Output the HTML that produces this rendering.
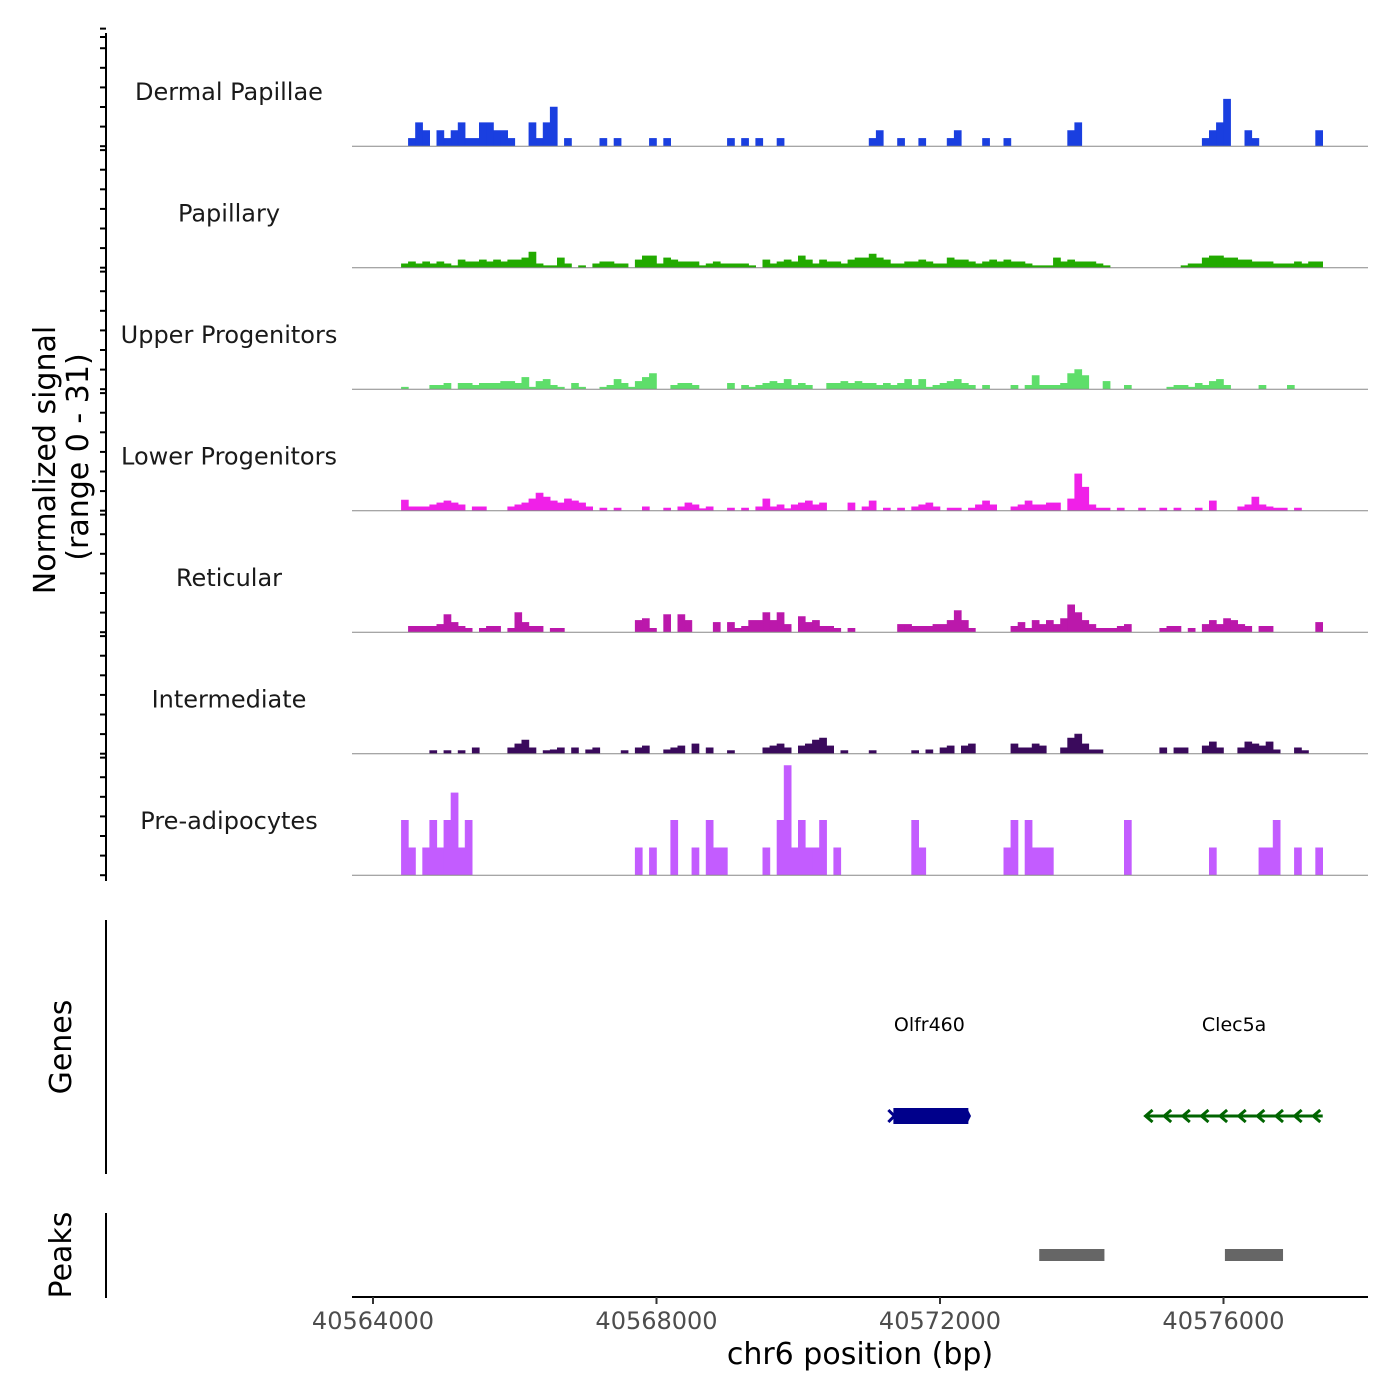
<!DOCTYPE html>
<html><head><meta charset="utf-8">
<style>
html,body{margin:0;padding:0;background:#fff;}
svg{display:block;font-family:"DejaVu Sans","Liberation Sans",sans-serif;}
</style></head>
<body>
<svg id="chart" width="1400" height="1400" viewBox="0 0 1400 1400" xmlns="http://www.w3.org/2000/svg">
<rect width="1400" height="1400" fill="#fff"/>
<g id="tracks"></g>
<g id="yaxis"></g>
<text transform="translate(55,460) rotate(-90)" text-anchor="middle" font-size="30" fill="#000">Normalized signal</text>
<text transform="translate(88,457) rotate(-90)" text-anchor="middle" font-size="30" fill="#000">(range 0 - 31)</text>
<line x1="106" y1="920" x2="106" y2="1174" stroke="#000" stroke-width="2"/>
<text transform="translate(71,1047) rotate(-90)" text-anchor="middle" font-size="30" fill="#000">Genes</text>
<line x1="106" y1="1213" x2="106" y2="1298" stroke="#000" stroke-width="2"/>
<text transform="translate(71,1255) rotate(-90)" text-anchor="middle" font-size="30" fill="#000">Peaks</text>
<g id="genes"></g>
<g id="peaks"></g>
<g id="xaxis"></g>
<text x="860" y="1364" text-anchor="middle" font-size="30" fill="#000">chr6 position (bp)</text>
</svg>
<script>
// ---- data ----
const binStart = 40563700;
const binSize = 100;
const trackNames = ["Dermal Papillae","Papillary","Upper Progenitors","Lower Progenitors","Reticular","Intermediate","Pre-adipocytes"];
const trackColors = ["#1a3fe0","#22aa00","#5ede6a","#f020e8","#bb18ab","#3a0a5c","#c35cff"];
const xTicks = [40564000,40568000,40572000,40576000];
const xTickLabels = ["40564000","40568000","40572000","40576000"];

const dermalBins = [8,9,10,12,13,14,15,16,17,18,19,20,21,22,25,26,27,28,30,35,37,42,44,53,55,57,60,73,74,77,80,84,85,89,92,101,102,120,121,122,123,126,127,136];
const dermalVals = [2,6,4,4,2,4,6,2,2,6,6,4,4,2,6,2,6,10,2,2,2,2,2,2,2,2,2,2,4,2,2,2,4,2,2,4,6,2,4,6,12,4,2,4];

const papBins = [7,8,9,10,11,12,13,14,15,16,17,18,19,20,21,22,23,24,25,26,27,28,29,30,32,34,35,36,37,38,40,41,42,43,44,45,46,47,48,49,50,51,52,53,54,55,56,58,59,60,61,62,63,64,65,66,67,68,69,70,71,72,73,74,75,76,77,78,79,80,81,82,83,84,85,86,87,88,89,90,91,92,93,94,95,96,97,98,99,100,101,102,103,104,105,106,117,118,119,120,121,122,123,124,125,126,127,128,129,130,131,132,133,134,135,136];
const papVals = [1,1.5,1,1.5,1,1.5,1,0.5,2,1.5,1.5,2,1.5,2,1.5,2,2,2.5,4,1,0.5,0.5,2.5,1,0.5,1,1.5,1.5,1,1,2,3,3,1,2.5,2,1.5,1.5,1.5,0.5,1,1.5,1,1,1,1,0.5,2,1,1.5,2,1.5,3,2,1,2,1.5,1.5,1,2,2.5,2.5,3.5,2.5,2,1,1,1.5,1.5,2,1.5,1,1,2.5,2,2,1.5,1,1.5,2,1.5,2,1.5,1.5,1,0.5,0.5,0.5,2.5,1.5,2,1.5,1.5,1.5,1,0.5,0.5,1,1,2.5,3,3,2.5,2.5,2,2,1.5,1.5,1.5,1,1,1,1.5,1,1.5,1.5];

const upperBins = [7,11,12,13,15,16,17,18,19,20,21,22,23,24,25,26,27,28,29,31,32,35,36,37,38,39,40,41,42,45,46,47,48,53,55,56,57,58,59,60,61,62,63,64,67,68,69,70,71,72,73,74,75,76,77,78,79,80,81,82,83,84,85,86,87,89,93,95,96,97,98,99,100,101,102,103,106,109,115,116,117,118,119,120,121,122,123,128,132];
const upperVals = [0.5,1,1,1.5,1.5,1.5,1,1.5,1.5,1.5,2,2,1.5,3,0.5,2,2.5,1,0.5,1.5,0.5,0.5,1,2.5,1.5,0.5,2,3,4,1,1.5,1.5,1,1.5,1,0.5,1,1.5,2,1.5,2.5,1,1.5,1,1.5,1.5,2,1.5,2,1.5,1.5,1,1.5,1,1.5,2.5,1,2.5,0.5,1,1.5,2,2.5,1.5,1,1,1,1,3.5,1,1,1,1.5,4,5,3.5,2,1,0.5,1,1,0.5,1.5,1,2,2.5,1,1,1];

const lowerBins = [7,8,9,10,11,12,13,14,15,17,18,22,23,24,25,26,27,28,29,30,31,32,33,35,37,41,44,46,47,48,49,50,53,55,57,58,59,60,61,62,63,64,65,66,70,72,73,75,77,79,80,81,82,84,85,87,88,89,90,93,94,95,96,97,98,99,101,102,103,104,105,106,108,111,114,116,119,121,125,126,127,128,129,130,131,133];
const lowerVals = [2.7,1,1,1,1.5,2,2.5,2,1.5,1,1,1,1.5,2,3,4.5,3.5,2.5,2,3,2.5,2,1,0.7,0.7,1,0.7,1,2,1.5,0.5,1,0.7,0.7,1,3,1,1.5,0.5,1.5,2,2.5,1.5,2,2,1,2.5,0.7,0.7,1,1.5,2,1,0.7,0.7,0.7,1.5,2.5,1.5,1,1.5,2.5,1.5,1.5,2,2,3,9.4,6,1.5,0.7,0.7,0.7,0.7,0.7,0.7,0.7,2.5,1,1.5,3.5,1.5,1,0.7,0.7,0.7];

const retBins = [8,9,10,11,12,13,14,15,16,18,19,20,22,23,24,25,26,28,29,40,41,42,44,46,47,51,53,54,55,56,57,58,59,60,61,63,64,65,66,67,68,70,77,78,79,80,81,82,83,84,85,86,87,93,94,95,96,97,98,99,100,101,102,103,104,105,106,107,108,109,114,115,116,118,120,121,122,123,124,125,126,128,129,136];
const retVals = [1.5,1.5,1.5,1.5,2,4.5,2.5,1.5,1,1,1.5,1.5,1,5,2.5,1.5,1.5,1,1,3,3.5,1,4.5,4.5,3,2.5,2.5,1,1.5,3,3,5,3,5,2,4,2.5,3,1.5,1.5,1,1,2,2,1.5,1.5,1.5,2,2,3,5.5,3,1,1.5,2.5,1,3,2,3,2,3.5,7,5,3,2,1,1,1,1.5,2,1,1.5,1.5,1,2,3,2,3.5,3,2,1.5,1.5,1.5,2.5];

const interBins = [11,13,15,17,22,23,24,25,27,28,29,31,33,34,38,40,41,44,45,46,48,50,53,58,59,60,61,63,64,65,66,67,69,73,79,81,83,84,86,87,93,94,95,96,97,100,101,102,103,104,105,114,116,117,120,121,122,125,126,127,128,129,130,133,134];
const interVals = [0.8,0.8,0.8,1.5,1.5,2.5,3.5,1.5,0.8,1,1.5,1.5,1,1.5,0.8,1.5,2,1,1.5,2,2.5,1.5,0.8,1.5,2,2.5,1.5,2,2.5,3.5,4,2,0.8,0.8,0.8,1,1.5,2,2,2.5,2.5,1.5,1.5,2.5,2,1.5,4,5,2.5,1,1,1.5,1.5,1.5,2,3,1.5,1.5,3,2.5,2,3,1,1.5,0.8];

const preBins = [7,8,10,11,12,13,14,15,16,40,42,45,48,50,51,52,58,60,61,62,63,64,65,66,68,79,80,92,93,95,96,97,98,109,121,128,129,130,133,136];
const preVals = [14,7,7,14,7,14,21,7,14,7,7,14,7,14,7,7,7,14,28,7,14,7,7,14,7,14,7,7,14,14,7,7,7,14,7,7,7,14,7,7];

const trackBins = [dermalBins,papBins,upperBins,lowerBins,retBins,interBins,preBins];
const trackVals = [dermalVals,papVals,upperVals,lowerVals,retVals,interVals,preVals];

const genesNames = ["Olfr460","Clec5a"];
const genesStart = [40571300,40574900];
const genesEnd = [40572400,40577400];
const genesStrand = ["+","-"];
const peaksStart = [40573400,40576020];
const peaksEnd = [40574320,40576840];

// ---- scales ----
const NS = "http://www.w3.org/2000/svg";
const yMax = 31;
const trackHeight = 121.5;
const firstBaseline = 146.2;
function xScale(bp){ return 373 + (bp - 40564000) * 283.5 / 4000; }
function baseline(t){ return firstBaseline + t * trackHeight; }
function yScale(t, v){ return baseline(t) - v * trackHeight / yMax; }
function mk(tag, attrs, parent){
  const e = document.createElementNS(NS, tag);
  for (const k in attrs) e.setAttribute(k, attrs[k]);
  parent.appendChild(e);
  return e;
}

const tracksG = document.getElementById('tracks');
const yAxisG = document.getElementById('yaxis');

trackNames.forEach((name, t) => {
  const g = mk('g', {}, tracksG);
  
  
  const bins = trackBins[t], vals = trackVals[t];
  let d = '';
  bins.forEach((b, i) => {
    const x0 = xScale(binStart + b * binSize), x1 = xScale(binStart + (b + 1) * binSize);
    const y0 = baseline(t), y1 = yScale(t, vals[i]);
    d += 'M' + x0.toFixed(1) + ' ' + y0.toFixed(1) + 'L' + x0.toFixed(1) + ' ' + y1.toFixed(1) + 'L' + x1.toFixed(1) + ' ' + y1.toFixed(1) + 'L' + x1.toFixed(1) + ' ' + y0.toFixed(1) + 'Z';
  });
  const area = mk('path', {d: d, fill: trackColors[t], stroke: trackColors[t], 'stroke-width': 0.6}, g);
  
  
  const bl = mk('line', {x1: 352, x2: 1368, y1: baseline(t), y2: baseline(t), stroke: '#888', 'stroke-width': 1}, g);
  
  
  const lab = mk('text', {x: 229, y: baseline(t) - 46, 'text-anchor': 'middle', 'font-size': 24, fill: '#1a1a1a'}, g);
  lab.textContent = name;
  
  
  for (let v = 0; v <= 30; v += 5) {
    const ty = yScale(t, v);
    const tk = mk('line', {x1: 100, x2: 106, y1: ty, y2: ty, stroke: '#000', 'stroke-width': 2}, yAxisG);
    
    
  }
});
const yl = mk('line', {x1: 106, x2: 106, y1: 33, y2: 881, stroke: '#000', 'stroke-width': 2}, yAxisG);


const topTick = mk('line', {x1: 100, x2: 106, y1: 37, y2: 37, stroke: '#000', 'stroke-width': 2}, yAxisG);



// genes
const genesG = document.getElementById('genes');
const geneColors = {"+": "#00008b", "-": "#006400"};
genesNames.forEach((n, i) => {
  const g = mk('g', {}, genesG);
  
  
  const x0 = xScale(genesStart[i]), x1 = xScale(genesEnd[i]);
  const c = geneColors[genesStrand[i]];
  const lab = mk('text', {x: (x0 + x1) / 2, y: 1031, 'text-anchor': 'middle', 'font-size': 19, fill: '#000'}, g);
  lab.textContent = n;
  
  
  if (genesStrand[i] === '+') {
    const body = mk('rect', {x: x0 + 3, y: 1108, width: x1 - x0 - 3, height: 16, fill: c}, g);
    
    
    const ar = mk('path', {d: 'M' + (x0 - 2) + ' 1110 L' + (x0 + 4) + ' 1116 L' + (x0 - 2) + ' 1122 M' + (x1 - 2) + ' 1110 L' + (x1 + 1) + ' 1116 L' + (x1 - 2) + ' 1122', stroke: c, 'stroke-width': 3, fill: 'none'}, g);
    
    
  } else {
    const ln = mk('line', {x1: x0, x2: x1, y1: 1116, y2: 1116, stroke: c, 'stroke-width': 3}, g);
    
    
    let d = '';
    for (let ax = x0; ax < x1 - 5; ax += (x1 - x0 - 2) / 9.4) {
      d += 'M' + (ax + 7) + ' 1110 L' + ax + ' 1116 L' + (ax + 7) + ' 1122 ';
    }
    const ar = mk('path', {d: d, stroke: c, 'stroke-width': 3, fill: 'none'}, g);
    
    
  }
});

// peaks
const peaksG = document.getElementById('peaks');
peaksStart.forEach((s, i) => {
  const r = mk('rect', {x: xScale(s), y: 1249, width: xScale(peaksEnd[i]) - xScale(s), height: 12, fill: '#666'}, peaksG);
  
  
});

// x axis
const xg = document.getElementById('xaxis');
const xl = mk('line', {x1: 352, x2: 1368, y1: 1297, y2: 1297, stroke: '#000', 'stroke-width': 2}, xg);


xTicks.forEach((v, i) => {
  const x = xScale(v);
  const tk = mk('line', {x1: x, x2: x, y1: 1297, y2: 1304, stroke: '#333', 'stroke-width': 2}, xg);
  
  
  const tl = mk('text', {x: x, y: 1329, 'text-anchor': 'middle', 'font-size': 24, fill: '#4d4d4d'}, xg);
  tl.textContent = xTickLabels[i];
  
  
});
</script>
</body></html>
